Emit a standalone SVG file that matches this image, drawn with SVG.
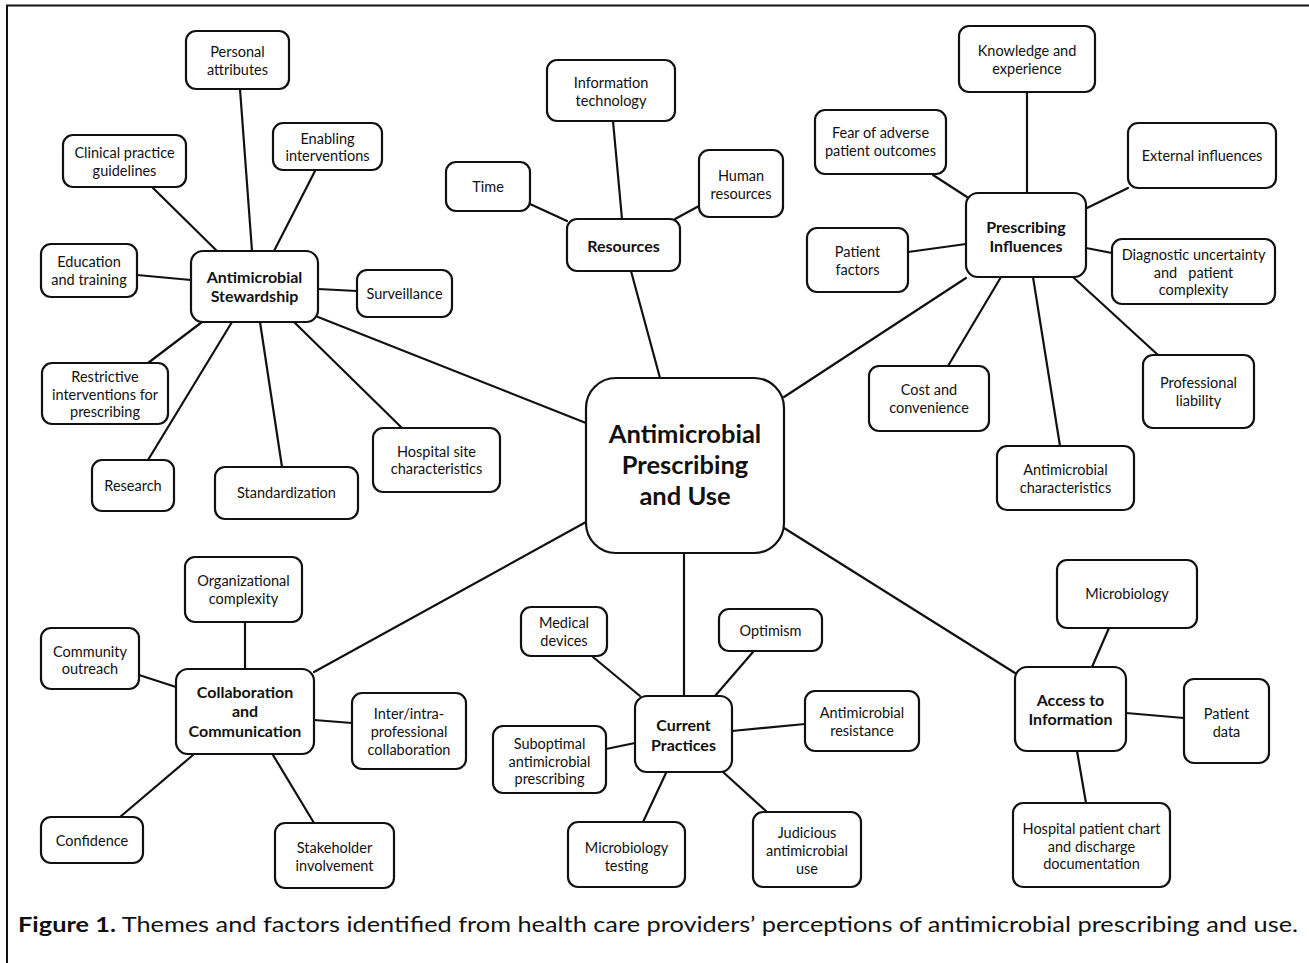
<svg xmlns="http://www.w3.org/2000/svg" width="1309" height="963" viewBox="0 0 1309 963">
<style>
.box{fill:#fff;stroke:#111;stroke-width:2.2}
.t{font-family:Lato,"Open Sans",sans-serif;font-size:14.5px;fill:#111;text-anchor:middle;dominant-baseline:central;white-space:pre}
.b{font-family:Lato,"Open Sans",sans-serif;font-size:16px;font-weight:bold;fill:#111;text-anchor:middle;dominant-baseline:central}
.c{font-family:Lato,"Open Sans",sans-serif;font-size:25.5px;font-weight:bold;fill:#111;text-anchor:middle;dominant-baseline:central}
.ln{stroke:#111;stroke-width:2.2;fill:none;stroke-linecap:round}
.cap{font-family:Lato,"Open Sans",sans-serif;font-size:21px;fill:#111}
</style>
<rect x="0" y="0" width="1309" height="963" fill="#fff"/>
<path d="M7,963 V5.5 H1309" fill="none" stroke="#111" stroke-width="2"/>
<g id="connectors">
<line class="ln" x1="318" y1="317" x2="586" y2="423"/>
<line class="ln" x1="240" y1="89" x2="252" y2="251"/>
<line class="ln" x1="153" y1="188" x2="217" y2="251"/>
<line class="ln" x1="315" y1="171" x2="274" y2="251"/>
<line class="ln" x1="137" y1="275" x2="191" y2="280"/>
<line class="ln" x1="318" y1="289" x2="357" y2="291"/>
<line class="ln" x1="148" y1="363" x2="202" y2="322"/>
<line class="ln" x1="148" y1="460" x2="232" y2="322"/>
<line class="ln" x1="282" y1="467" x2="260" y2="322"/>
<line class="ln" x1="402" y1="428" x2="294" y2="322"/>
<line class="ln" x1="613" y1="121" x2="622" y2="219"/>
<line class="ln" x1="530" y1="204" x2="567" y2="221"/>
<line class="ln" x1="699" y1="206" x2="675" y2="219"/>
<line class="ln" x1="631" y1="271" x2="660" y2="378"/>
<line class="ln" x1="784" y1="397" x2="966" y2="278"/>
<line class="ln" x1="1027" y1="92" x2="1027" y2="193"/>
<line class="ln" x1="933" y1="175" x2="967" y2="197"/>
<line class="ln" x1="1128" y1="188" x2="1087" y2="208"/>
<line class="ln" x1="908" y1="252" x2="966" y2="244"/>
<line class="ln" x1="1086" y1="248" x2="1112" y2="253"/>
<line class="ln" x1="1001" y1="277" x2="948" y2="366"/>
<line class="ln" x1="1033" y1="277" x2="1060" y2="446"/>
<line class="ln" x1="1073" y1="277" x2="1158" y2="355"/>
<line class="ln" x1="314" y1="672" x2="586" y2="522"/>
<line class="ln" x1="245" y1="622" x2="245" y2="669"/>
<line class="ln" x1="139" y1="675" x2="176" y2="687"/>
<line class="ln" x1="314" y1="720" x2="352" y2="723"/>
<line class="ln" x1="120" y1="817" x2="193" y2="755"/>
<line class="ln" x1="314" y1="823" x2="273" y2="755"/>
<line class="ln" x1="684" y1="553" x2="684" y2="696"/>
<line class="ln" x1="593" y1="657" x2="640" y2="696"/>
<line class="ln" x1="753" y1="652" x2="715" y2="696"/>
<line class="ln" x1="805" y1="724" x2="732" y2="731"/>
<line class="ln" x1="606" y1="749" x2="635" y2="743"/>
<line class="ln" x1="643" y1="822" x2="666" y2="773"/>
<line class="ln" x1="766" y1="811" x2="723" y2="772"/>
<line class="ln" x1="784" y1="528" x2="1015" y2="673"/>
<line class="ln" x1="1109" y1="628" x2="1092" y2="667"/>
<line class="ln" x1="1126" y1="713" x2="1184" y2="718"/>
<line class="ln" x1="1077" y1="751" x2="1086" y2="803"/>
</g>
<g id="central"><rect class="box" x="586" y="378" width="198" height="175" rx="30"/><text class="c"><tspan x="685" y="433">Antimicrobial</tspan><tspan x="685" y="464">Prescribing</tspan><tspan x="685" y="495">and Use</tspan></text></g>
<g id="stewardship"><rect class="box" x="191" y="251" width="127" height="71" rx="12"/><text class="b"><tspan x="254.5" y="276">Antimicrobial</tspan><tspan x="254.5" y="295">Stewardship</tspan></text></g>
<g id="personal"><rect class="box" x="186" y="31" width="103" height="58" rx="10"/><text class="t"><tspan x="237.5" y="51">Personal</tspan><tspan x="237.5" y="69">attributes</tspan></text></g>
<g id="clinical"><rect class="box" x="63" y="135" width="123" height="52" rx="10"/><text class="t"><tspan x="124.5" y="152">Clinical practice</tspan><tspan x="124.5" y="170">guidelines</tspan></text></g>
<g id="enabling"><rect class="box" x="273" y="123" width="109" height="47" rx="10"/><text class="t"><tspan x="327.5" y="138">Enabling</tspan><tspan x="327.5" y="155">interventions</tspan></text></g>
<g id="education"><rect class="box" x="41" y="244" width="96" height="53" rx="10"/><text class="t"><tspan x="89" y="261">Education</tspan><tspan x="89" y="279">and training</tspan></text></g>
<g id="surveillance"><rect class="box" x="357" y="270" width="95" height="47" rx="10"/><text class="t" x="404.5" y="293">Surveillance</text></g>
<g id="restrictive"><rect class="box" x="42" y="363" width="126" height="61" rx="10"/><text class="t"><tspan x="105" y="376">Restrictive</tspan><tspan x="105" y="394">interventions for</tspan><tspan x="105" y="411">prescribing</tspan></text></g>
<g id="research"><rect class="box" x="92" y="460" width="82" height="51" rx="10"/><text class="t" x="133" y="485">Research</text></g>
<g id="standardization"><rect class="box" x="215" y="467" width="143" height="52" rx="10"/><text class="t" x="286.5" y="492">Standardization</text></g>
<g id="hospital-site"><rect class="box" x="373" y="428" width="127" height="64" rx="10"/><text class="t"><tspan x="436.5" y="451">Hospital site</tspan><tspan x="436.5" y="468">characteristics</tspan></text></g>
<g id="resources"><rect class="box" x="567" y="219" width="113" height="52" rx="10"/><text class="b" x="623.5" y="245">Resources</text></g>
<g id="it"><rect class="box" x="547" y="60" width="128" height="61" rx="10"/><text class="t"><tspan x="611" y="82">Information</tspan><tspan x="611" y="100">technology</tspan></text></g>
<g id="time"><rect class="box" x="446" y="162" width="84" height="49" rx="10"/><text class="t" x="488" y="186">Time</text></g>
<g id="human"><rect class="box" x="699" y="150" width="84" height="67" rx="10"/><text class="t"><tspan x="741" y="175">Human</tspan><tspan x="741" y="193">resources</tspan></text></g>
<g id="prescribing-influences"><rect class="box" x="966" y="193" width="120" height="84" rx="12"/><text class="b"><tspan x="1026" y="226">Prescribing</tspan><tspan x="1026" y="245">Influences</tspan></text></g>
<g id="knowledge"><rect class="box" x="959" y="26" width="136" height="66" rx="10"/><text class="t"><tspan x="1027" y="50">Knowledge and</tspan><tspan x="1027" y="68">experience</tspan></text></g>
<g id="fear"><rect class="box" x="815" y="110" width="131" height="64" rx="10"/><text class="t"><tspan x="880.5" y="132">Fear of adverse</tspan><tspan x="880.5" y="150">patient outcomes</tspan></text></g>
<g id="external"><rect class="box" x="1128" y="123" width="148" height="65" rx="10"/><text class="t" x="1202" y="155">External influences</text></g>
<g id="patient-factors"><rect class="box" x="807" y="228" width="101" height="64" rx="10"/><text class="t"><tspan x="857.5" y="251">Patient</tspan><tspan x="857.5" y="269">factors</tspan></text></g>
<g id="diagnostic"><rect class="box" x="1112" y="239" width="163" height="65" rx="10"/><text class="t"><tspan x="1193.5" y="254">Diagnostic uncertainty</tspan><tspan x="1193.5" y="272">and   patient</tspan><tspan x="1193.5" y="289">complexity</tspan></text></g>
<g id="cost"><rect class="box" x="869" y="366" width="120" height="65" rx="10"/><text class="t"><tspan x="929" y="389">Cost and</tspan><tspan x="929" y="407">convenience</tspan></text></g>
<g id="am-characteristics"><rect class="box" x="997" y="446" width="137" height="64" rx="10"/><text class="t"><tspan x="1065.5" y="469">Antimicrobial</tspan><tspan x="1065.5" y="487">characteristics</tspan></text></g>
<g id="liability"><rect class="box" x="1143" y="355" width="111" height="73" rx="10"/><text class="t"><tspan x="1198.5" y="382">Professional</tspan><tspan x="1198.5" y="400">liability</tspan></text></g>
<g id="collaboration"><rect class="box" x="176" y="669" width="138" height="85" rx="12"/><text class="b"><tspan x="245" y="691">Collaboration</tspan><tspan x="245" y="710">and</tspan><tspan x="245" y="730">Communication</tspan></text></g>
<g id="organizational"><rect class="box" x="185" y="557" width="117" height="65" rx="10"/><text class="t"><tspan x="243.5" y="580">Organizational</tspan><tspan x="243.5" y="598">complexity</tspan></text></g>
<g id="community"><rect class="box" x="41" y="628" width="98" height="61" rx="10"/><text class="t"><tspan x="90" y="651">Community</tspan><tspan x="90" y="668">outreach</tspan></text></g>
<g id="inter"><rect class="box" x="352" y="693" width="114" height="76" rx="10"/><text class="t"><tspan x="409" y="713">Inter/intra-</tspan><tspan x="409" y="731">professional</tspan><tspan x="409" y="749">collaboration</tspan></text></g>
<g id="confidence"><rect class="box" x="41" y="817" width="102" height="46" rx="10"/><text class="t" x="92" y="840">Confidence</text></g>
<g id="stakeholder"><rect class="box" x="275" y="823" width="119" height="65" rx="10"/><text class="t"><tspan x="334.5" y="847">Stakeholder</tspan><tspan x="334.5" y="865">involvement</tspan></text></g>
<g id="current-practices"><rect class="box" x="635" y="696" width="97" height="76" rx="12"/><text class="b"><tspan x="683.5" y="724">Current</tspan><tspan x="683.5" y="744">Practices</tspan></text></g>
<g id="medical"><rect class="box" x="521" y="607" width="86" height="49" rx="10"/><text class="t"><tspan x="564" y="622">Medical</tspan><tspan x="564" y="640">devices</tspan></text></g>
<g id="optimism"><rect class="box" x="719" y="609" width="103" height="42" rx="10"/><text class="t" x="770.5" y="630">Optimism</text></g>
<g id="resistance"><rect class="box" x="805" y="691" width="114" height="60" rx="10"/><text class="t"><tspan x="862" y="712">Antimicrobial</tspan><tspan x="862" y="730">resistance</tspan></text></g>
<g id="suboptimal"><rect class="box" x="493" y="726" width="113" height="67" rx="10"/><text class="t"><tspan x="549.5" y="743">Suboptimal</tspan><tspan x="549.5" y="761">antimicrobial</tspan><tspan x="549.5" y="778">prescribing</tspan></text></g>
<g id="micro-testing"><rect class="box" x="568" y="822" width="117" height="65" rx="10"/><text class="t"><tspan x="626.5" y="847">Microbiology</tspan><tspan x="626.5" y="865">testing</tspan></text></g>
<g id="judicious"><rect class="box" x="753" y="812" width="108" height="75" rx="10"/><text class="t"><tspan x="807" y="832">Judicious</tspan><tspan x="807" y="850">antimicrobial</tspan><tspan x="807" y="868">use</tspan></text></g>
<g id="access"><rect class="box" x="1015" y="667" width="111" height="84" rx="12"/><text class="b"><tspan x="1070.5" y="699">Access to</tspan><tspan x="1070.5" y="718">Information</tspan></text></g>
<g id="microbiology"><rect class="box" x="1057" y="560" width="140" height="68" rx="10"/><text class="t" x="1127" y="593">Microbiology</text></g>
<g id="patient-data"><rect class="box" x="1184" y="679" width="85" height="84" rx="10"/><text class="t"><tspan x="1226.5" y="713">Patient</tspan><tspan x="1226.5" y="731">data</tspan></text></g>
<g id="chart"><rect class="box" x="1013" y="803" width="157" height="84" rx="10"/><text class="t"><tspan x="1091.5" y="828">Hospital patient chart</tspan><tspan x="1091.5" y="846">and discharge</tspan><tspan x="1091.5" y="863">documentation</tspan></text></g>
<g id="caption"><text class="cap" x="18" y="932" textLength="1280" lengthAdjust="spacingAndGlyphs"><tspan font-weight="bold">Figure 1.</tspan> Themes and factors identified from health care providers’ perceptions of antimicrobial prescribing and use.</text></g>
</svg>
